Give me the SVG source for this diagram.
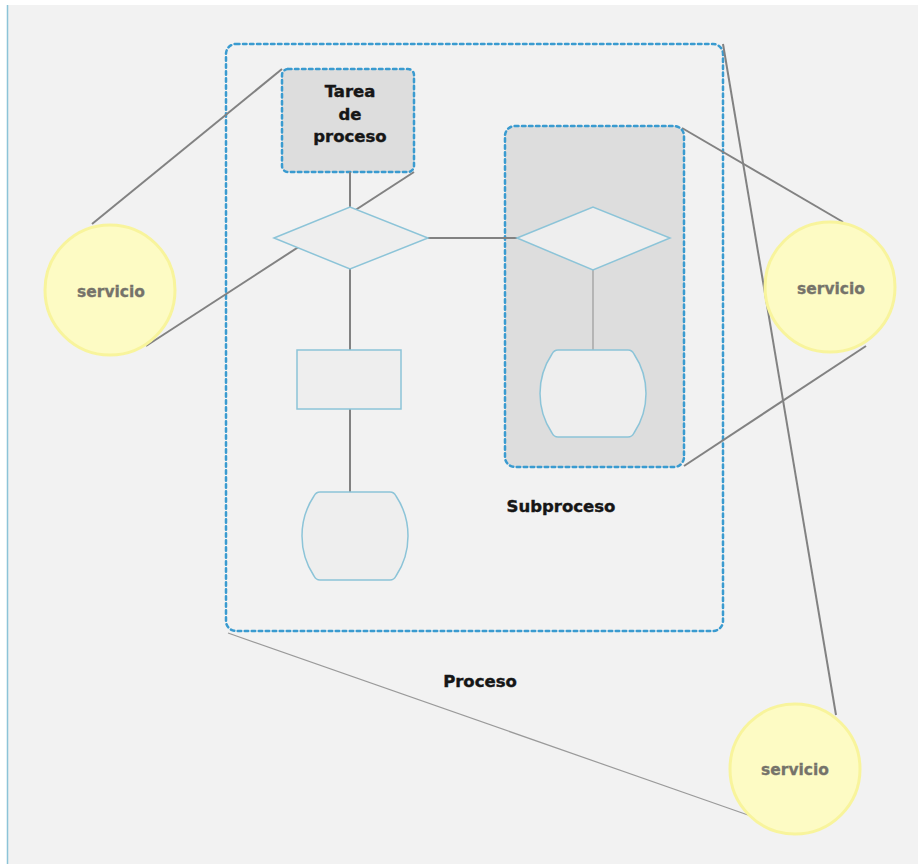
<svg xmlns="http://www.w3.org/2000/svg" width="918" height="864" viewBox="0 0 918 864">
  <style>
    .frame { fill: none; stroke: #3a9bd0; stroke-width: 2.5; stroke-dasharray: 3.5 3.5; stroke-linecap: round; }
    .box { fill: #dddddd; stroke: #3a9bd0; stroke-width: 2.5; stroke-dasharray: 3.5 3.5; stroke-linecap: round; }
    .shape { fill: #eeeeee; stroke: #8cc4d8; stroke-width: 1.5; }
    .link { fill: none; stroke: #828282; stroke-width: 2; }
    .thin { fill: none; stroke: #9a9a9a; stroke-width: 1.2; }
    .svc { fill: #fdfbc4; stroke: #f8f49c; stroke-width: 3; }
    .svc-text { font-family: "DejaVu Sans", "Liberation Sans", sans-serif; font-weight: bold; font-size: 15.5px; fill: #75736a; stroke: #75736a; stroke-width: 0.3; text-anchor: middle; }
    .label { font-family: "DejaVu Sans", "Liberation Sans", sans-serif; font-weight: bold; font-size: 16.5px; fill: #161616; stroke: #161616; stroke-width: 0.4; text-anchor: middle; }
  </style>

  <!-- page -->
  <rect x="0" y="0" width="918" height="864" fill="#ffffff"/>
  <rect x="7" y="5" width="911" height="859" fill="#f2f2f2"/>
  <line x1="7.5" y1="5" x2="7.5" y2="864" stroke="#8cc4d8" stroke-width="1.5"/>

  <!-- process frame -->
  <g id="proceso">
    <rect class="frame" x="226" y="44" width="497" height="587" rx="10"/>
    <text class="label" x="480" y="687">Proceso</text>
  </g>

  <!-- connectors -->
  <g id="connectors">
    <line class="link" x1="92" y1="224" x2="282" y2="69"/>
    <line class="link" x1="414" y1="172" x2="146" y2="346"/>
    <line class="link" x1="682" y1="128" x2="843" y2="222"/>
    <line class="link" x1="684" y1="466" x2="866" y2="346"/>
    <line class="link" x1="723" y1="44" x2="836" y2="715"/>
    <line class="thin" x1="228" y1="633" x2="748" y2="815"/>
  </g>

  <!-- subprocess container -->
  <g id="subproceso">
    <rect class="box" x="505" y="126" width="179" height="341" rx="10"/>
    <text class="label" x="561" y="512">Subproceso</text>
  </g>

  <!-- task -->
  <g id="tarea">
    <rect class="box" x="282" y="69" width="132" height="103" rx="6"/>
    <text class="label" x="350" y="97">Tarea</text>
    <text class="label" x="350" y="120">de</text>
    <text class="label" x="350" y="142">proceso</text>
  </g>

  <!-- flow connectors inside the process -->
  <g id="flow">
    <line class="link" x1="350" y1="172" x2="350" y2="207"/>
    <line class="link" x1="350" y1="269" x2="350" y2="350"/>
    <line class="link" x1="350" y1="409" x2="350" y2="492"/>
    <line class="link" x1="428" y1="238" x2="517" y2="238"/>
    <line class="thin" x1="593" y1="270" x2="593" y2="350"/>
  </g>

  <g id="decision-1">
    <polygon class="shape" points="274,238 350,207 428,238 350,269"/>
  </g>
  <g id="activity">
    <rect class="shape" x="297" y="350" width="104" height="59"/>
  </g>
  <g id="store-1">
    <path class="shape" d="M320,492 L390,492 Q394,492 396,496 C412,520 412,552 396,576 Q394,580 390,580 L320,580 Q316,580 314,576 C298,552 298,520 314,496 Q316,492 320,492 Z"/>
  </g>
  <g id="decision-2">
    <polygon class="shape" points="517,238 593,207 670,238 593,270"/>
  </g>
  <g id="store-2">
    <path class="shape" d="M558,350 L628,350 Q632,350 634,354 C650,378 650,409 634,433 Q632,437 628,437 L558,437 Q554,437 552,433 C536,409 536,378 552,354 Q554,350 558,350 Z"/>
  </g>

  <!-- services -->
  <g id="servicio-izq">
    <circle class="svc" cx="110" cy="290" r="65"/>
    <text class="svc-text" x="111" y="297">servicio</text>
  </g>
  <g id="servicio-der">
    <circle class="svc" cx="830" cy="287" r="65"/>
    <text class="svc-text" x="831" y="294">servicio</text>
  </g>
  <g id="servicio-inf">
    <circle class="svc" cx="795" cy="769" r="65"/>
    <text class="svc-text" x="795" y="775">servicio</text>
  </g>
</svg>
